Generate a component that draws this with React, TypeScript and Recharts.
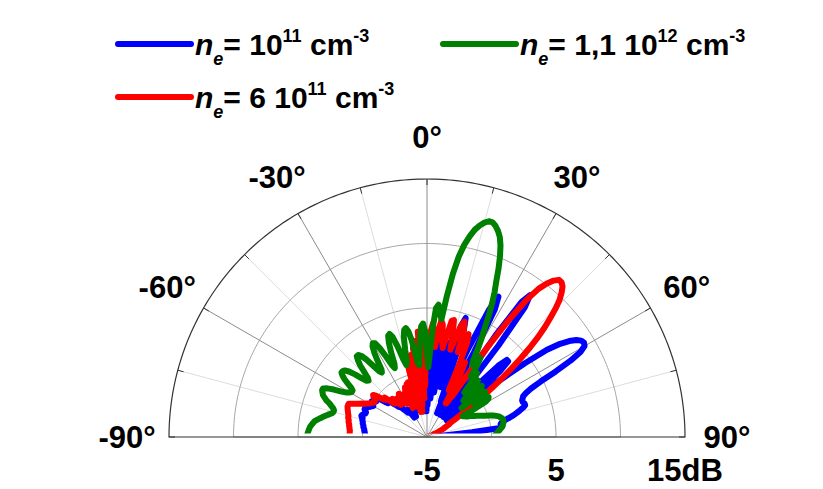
import { RadarChart, Radar, PolarGrid, PolarAngleAxis, PolarRadiusAxis } from "recharts";

// Radiation pattern in dB, one value per degree from -90° to 90°
const angles: number[] = Array.from({ length: 181 }, (_, i) => i - 90);

const blueDb = [
  // -90..-81
  -0.2, -0.2, -0.2, -0.2, -0.15, -0.15, -0.1, -0.1, -0.05, 0.0,
  // -80..-71
  0.0, 0.05, 0.1, 0.1, 0.15, 0.2, 0.2, 0.3, 0.35, 0.3,
  // -70..-61
  0.2, 0.1, 0.1, 0.2, 0.3, 0.3, 0.2, 0.1, 0.0, -0.1,
  // -60..-51
  -0.2, -0.1, 0.0, 0.1, 0.0, -0.2, -0.1, 0.1, -0.1, -0.4,
  // -50..-41
  -0.8, -1.0, -0.9, -0.8, -1.1, -1.4, -1.6, -1.8, -1.9, -2.0,
  // -40..-31
  -2.2, -2.4, -2.6, -2.6, -2.4, -2.5, -2.9, -3.2, -3.0, -2.7,
  // -30..-21
  -2.5, -2.7, -3.2, -2.9, -2.4, -2.2, -2.6, -2.0, -1.6, -2.4,
  // -20..-11
  -1.8, -2.6, -1.5, -2.8, -1.2, -2.6, -1.0, -2.2, -0.4, -1.8,
  // -10..-1
  -1.5, -3.0, 0.3, -3.0, 0.8, -2.5, 1.5, -3.0, 2.2, -3.0,
  // 0..9
  2.5, -2.5, 2.8, -2.0, 3.0, -2.0, 3.0, -1.5, 3.0, -1.5,
  // 10..19
  2.8, -1.0, 2.5, 0.0, 2.0, -1.0, 1.5, 4.0, 4.7, 3.8,
  // 20..29
  0.5, -2.0, -1.0, -3.0, -2.0, 2.5, 6.0, 7.2, 6.2, 2.5,
  // 30..39
  -2.0, -3.0, -2.0, -1.0, 4.5, 7.8, 8.6, 7.6, 4.0, -1.0,
  // 40..49
  -3.0, -2.0, -2.0, -1.5, 0.5, 2.8, 3.6, 3.6, 2.6, 0.0,
  // 50..59
  -3.0, -1.0, 2.0, 4.5, 6.5, 7.6, 8.3, 8.8, 9.1, 9.2,
  // 60..69
  9.1, 8.6, 7.6, 6.2, 4.8, 3.9, 3.4, 3.1, 3.0, 2.9,
  // 70..79
  2.9, 3.0, 3.0, 2.8, 2.5, 2.2, 1.9, 1.5, 1.1, 0.9,
  // 80..89
  0.8, 0.9, 0.9, 0.7, -1.5, -4.0, -5, -5, -5, -5,
  // 90
  -5,
];

const redDb = [
  // -90..-81
  1.0, 1.0, 1.0, 1.0, 1.0, 1.0, 1.05, 1.05, 1.1, 1.1,
  // -80..-71
  1.15, 1.2, 1.2, 1.25, 1.3, 1.3, 1.35, 1.4, 1.45, 1.5,
  // -70..-61
  1.55, 1.6, 1.6, 1.6, 1.35, 1.1, 0.9, 0.7, 0.5, 0.35,
  // -60..-51
  0.2, 0.1, 0.0, -0.1, -0.1, -0.1, 0.0, 0.2, 0.3, 0.1,
  // -50..-41
  -0.3, -0.6, -0.7, -0.5, -0.9, -1.2, -1.4, -1.2, -1.0, -1.3,
  // -40..-31
  -1.6, -1.8, -1.5, -1.2, -1.5, -1.8, -1.4, -1.0, -1.5, -2.0,
  // -30..-21
  -1.8, -1.5, -1.2, -1.5, -2.5, -1.0, -0.8, -2.0, -1.0, -0.6,
  // -20..-11
  -2.0, -0.5, -2.5, -0.6, -2.5, 0.5, -3.0, 1.0, -3.0, 1.5,
  // -10..-1
  -3.0, 2.0, -2.5, 2.5, -2.0, 3.2, -2.0, 3.0, -1.0, 1.5,
  // 0..9
  1.0, 2.0, 3.2, 3.8, 3.0, 2.0, 3.2, 4.1, 3.8, 2.5,
  // 10..19
  2.0, 3.0, 4.2, 4.3, 3.2, 2.0, 2.8, 4.0, 4.4, 3.8,
  // 20..29
  2.0, 2.5, 3.6, 3.0, 1.0, -1.0, 0.5, 1.5, 0.5, -2.0,
  // 30..39
  -2.0, -1.5, -1.0, 0.5, 3.5, 6.2, 8.2, 9.4, 10.1, 10.6,
  // 40..49
  10.9, 10.9, 10.7, 10.3, 9.8, 9.1, 8.3, 7.5, 6.6, 5.6,
  // 50..59
  4.5, 3.4, 2.3, 1.3, 0.3, -0.8, -1.5, -2.0, -2.5, -3.0,
  // 60..69
  -3.0, -3.2, -3.5, -3.5, -3.8, -4.0, -4.0, -4.2, -4.5, -4.5,
  // 70..79
  -4.5, -4.6, -4.8, -5, -5, -5, -5, -5, -5, -5,
  // 80..89
  -5, -5, -5, -5, -5, -5, -5, -5, -5, -5,
  // 90
  -5,
];

const greenDb = [
  // -90..-81
  4.3, 4.3, 4.25, 4.2, 4.15, 4.1, 4.0, 3.9, 3.8, 3.6,
  // -80..-71
  3.4, 3.2, 3.0, 2.8, 2.6, 2.5, 2.5, 2.6, 2.8, 3.0,
  // -70..-61
  3.3, 3.5, 3.7, 3.8, 3.9, 3.9, 3.6, 3.1, 2.5, 2.1,
  // -60..-51
  1.9, 1.8, 1.8, 2.0, 2.4, 2.8, 3.1, 3.3, 3.3, 3.2,
  // -50..-41
  2.9, 2.4, 1.8, 1.4, 1.3, 1.5, 2.0, 2.6, 3.0, 3.3,
  // -40..-31
  3.3, 3.1, 2.6, 1.9, 1.3, 1.1, 1.3, 2.0, 2.7, 3.2,
  // -30..-21
  3.4, 3.3, 2.8, 2.0, 1.2, 0.9, 1.2, 2.1, 2.9, 3.4,
  // -20..-11
  3.5, 3.2, 2.4, 1.3, 0.8, 1.0, 2.0, 3.0, 3.5, 3.6,
  // -10..-1
  3.3, 2.6, 1.5, 0.7, 0.6, 1.5, 2.8, 3.6, 3.8, 3.2,
  // 0..9
  1.5, 0.4, 1.5, 3.5, 5.0, 5.3, 4.6, 4.2, 6.0, 7.8,
  // 10..19
  9.2, 10.2, 10.9, 11.5, 11.9, 12.2, 12.4, 12.4, 12.2, 11.9,
  // 20..29
  11.5, 10.9, 10.1, 9.2, 8.2, 7.4, 6.5, 5.5, 4.5, 3.7,
  // 30..39
  2.9, 2.0, 1.6, 2.2, 2.4, 1.8, 0.8, 1.2, 1.3, 0.5,
  // 40..49
  -0.5, 0.2, 0.9, 0.7, -0.5, -1.0, 0.3, 0.8, 0.6, -0.8,
  // 50..59
  -1.5, 0.2, 0.7, 0.6, -0.5, -0.5, 0.5, 0.7, 0.6, 0.3,
  // 60..69
  -1.8, -1.7, -1.6, -1.5, -1.3, -1.15, -1.0, -0.8, -0.6, -0.4,
  // 70..79
  -0.2, 0.1, 0.4, 0.6, 0.8, 0.9, 1.0, 1.05, 1.05, 1.05,
  // 80..89
  1.0, 0.95, 0.9, 0.8, 0.7, 0.6, 0.5, 0.4, 0.3, 0.2,
  // 90
  0.15,
];

// legend / series info (drawn blue, red, then green on top)
const seriesKeys = ["blue", "red", "green"];
const seriesColors = ["#0000ff", "#ff0000", "#008000"];
const legendCoef = ["", "6 ", "1,1 "];
const legendExp = ["11", "11", "12"];

const R_MIN = -5;
const R_MAX = 15;
const ringLevels = [0, 5, 10];

const chartData = angles.map((angle, i) => ({
  angle,
  blue: blueDb[i],
  red: redDb[i],
  green: greenDb[i],
}));

// layout
const W = 823;
const H = 489;
const CX = 427;
const CY = 437;
const OUTER_R = 258;
const LABEL_R = 300;
const FONT = "'Liberation Sans', Arial, Helvetica, sans-serif";

const dbToRadius = (v: number) => ((v - R_MIN) / (R_MAX - R_MIN)) * OUTER_R;

// grid angles in screen degrees (0 = right, 180 = left)
const arcAngles = Array.from({ length: 181 }, (_, i) => i);
const minorSpokes = [15, 45, 75, 105, 135, 165];
const majorSpokes = [30, 60, 90, 120, 150];

function AngleTick(props: any) {
  const value = props.payload?.value;
  if (value == null || Math.round(value) % 30 !== 0) return <g />;
  const rad = ((90 - value) * Math.PI) / 180;
  const x = CX + LABEL_R * Math.cos(rad);
  const y = CY - LABEL_R * Math.sin(rad);
  return (
    <text
      x={x}
      y={y}
      textAnchor="middle"
      dominantBaseline="central"
      fontFamily={FONT}
      fontWeight="bold"
      fontSize={31}
      fill="#000"
    >
      {`${value}°`}
    </text>
  );
}

function RadiusTick(props: any) {
  const value = props.payload?.value;
  return (
    <text
      x={props.x}
      y={CY + 33}
      textAnchor="middle"
      dominantBaseline="central"
      fontFamily={FONT}
      fontWeight="bold"
      fontSize={31}
      fill="#000"
    >
      {value === R_MAX ? `${value}dB` : `${value}`}
    </text>
  );
}

const legendPos = [
  { x: 118, y: 44 },
  { x: 118, y: 97 },
  { x: 443, y: 44 },
];

function LegendOverlay() {
  return (
    <svg
      width={W}
      height={130}
      style={{ position: "absolute", left: 0, top: 0, pointerEvents: "none" }}
    >
      <defs>
        {/* traces stop at the baseline, like the original half-plane plot */}
        <clipPath id="upper-half" clipPathUnits="userSpaceOnUse">
          <rect x={0} y={0} width={W} height={CY - 3.5} />
        </clipPath>
      </defs>
      {seriesKeys.map((key, i) => {
        const p = legendPos[i];
        return (
          <g key={key}>
            <line
              x1={p.x}
              y1={p.y}
              x2={p.x + 73}
              y2={p.y}
              stroke={seriesColors[i]}
              strokeWidth={6}
              strokeLinecap="round"
            />
            <text
              x={p.x + 77}
              y={p.y + 11}
              fontFamily={FONT}
              fontWeight="bold"
              fontSize={30}
              fill="#000"
              style={{ whiteSpace: "pre" }}
            >
              <tspan fontStyle="italic">n</tspan>
              <tspan fontStyle="italic" fontSize={18} dy={10}>
                e
              </tspan>
              <tspan dy={-10}>{`= ${legendCoef[i]}10`}</tspan>
              <tspan fontSize={18} dy={-13}>
                {legendExp[i]}
              </tspan>
              <tspan dy={13}>{" cm"}</tspan>
              <tspan fontSize={18} dy={-13}>
                -3
              </tspan>
            </text>
          </g>
        );
      })}
    </svg>
  );
}

export default function App() {
  return (
    <div
      style={{
        position: "absolute",
        left: 0,
        top: 0,
        width: W,
        height: H,
        background: "#fff",
      }}
    >
      <style>{`.trace { clip-path: url(#upper-half); }`}</style>
      <RadarChart
        width={W}
        height={H}
        data={chartData}
        cx={CX}
        cy={CY}
        innerRadius={0}
        outerRadius={OUTER_R}
        startAngle={180}
        endAngle={0}
        margin={{ top: 0, right: 0, bottom: 0, left: 0 }}
      >
        {/* light 15° spokes */}
        <PolarGrid
          gridType="polygon"
          polarAngles={minorSpokes}
          polarRadius={[]}
          stroke="#dcdcdc"
          strokeWidth={1}
        />
        {/* 0, 5, 10 dB rings */}
        <PolarGrid
          gridType="polygon"
          radialLines={false}
          polarAngles={arcAngles}
          polarRadius={ringLevels.map(dbToRadius)}
          stroke="#a6a6a6"
          strokeWidth={1}
        />
        {/* 30° spokes */}
        <PolarGrid
          gridType="polygon"
          polarAngles={majorSpokes}
          polarRadius={[]}
          stroke="#8c8c8c"
          strokeWidth={1}
        />
        {/* outer arc + baseline */}
        <PolarGrid
          gridType="polygon"
          radialLines={false}
          polarAngles={arcAngles}
          polarRadius={[OUTER_R]}
          stroke="#333"
          strokeWidth={1.2}
        />
        <PolarAngleAxis
          dataKey="angle"
          type="number"
          domain={[-90, 90]}
          tickCount={13}
          axisLine={false}
          orientation="inner"
          tickSize={6}
          tickLine={{ stroke: "#333", strokeWidth: 1 }}
          tick={AngleTick}
        />
        <PolarRadiusAxis
          angle={0}
          type="number"
          domain={[R_MIN, R_MAX]}
          tickCount={3}
          axisLine={false}
          tickLine={false}
          tick={RadiusTick}
        />
        {seriesKeys.map((key, i) => (
          <Radar
            key={key}
            className="trace"
            dataKey={key}
            stroke={seriesColors[i]}
            strokeWidth={6}
            strokeLinejoin="round"
            fill="none"
            fillOpacity={0}
            dot={false}
            isAnimationActive={false}
          />
        ))}
      </RadarChart>
      <LegendOverlay />
    </div>
  );
}
